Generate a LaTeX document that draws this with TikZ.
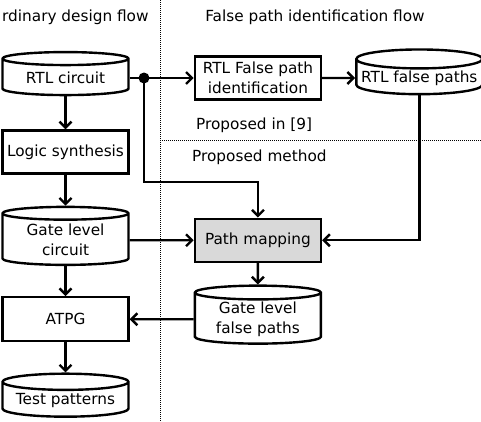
\documentclass[tikz,border=0pt]{standalone}
\usepackage{fontspec}
\setmainfont{DejaVu Sans}
\usetikzlibrary{shapes.geometric, arrows.meta, positioning}

\begin{document}
\begin{tikzpicture}[x=1pt, y=-1pt, ->, >={Straight Barb[length=6pt,width=12pt]}, line width=2.4pt, node distance=33pt,
		font=\fontsize{15.3}{20}\selectfont,
		box/.style={draw, rectangle, align=center, minimum width=126pt, minimum height=43pt, inner sep=2pt},
		db/.style={draw, cylinder, shape border rotate=90, aspect=0.16, align=center, minimum width=126pt, minimum height=43pt, inner sep=1pt},
		lbl/.style={inner sep=0pt},
		sep/.style={-, line width=1pt, dash pattern=on 1pt off 1pt}]
	\useasboundingbox (0,0) rectangle (481,421);
	
	% separators and titles
	\draw[sep] (160,0) -- (160,421);
	\draw[sep] (160,140) -- (481,140);
	\node[lbl, anchor=west] (ordinary) at (1,17) {rdinary design flow};
	\node[lbl] (fpflow) at (315,17) {False path identification flow};
	\node[lbl, anchor=west] (proposedin) at (195,125) {Proposed in [9]};
	\node[lbl, anchor=west] (proposed) at (191,157) {Proposed method};
	
	% ordinary flow
	\node[db] (rtl) at (65.5,78) {RTL circuit};
	\node[box] (synth) [below=of rtl] {Logic synthesis};
	\node[db, minimum height=58pt] (gate) [below=31pt of synth] {Gate level\\circuit};
	\node[box, minimum height=44pt] (atpg) [below=30pt of gate] {ATPG};
	\node[db] (test) [below=30pt of atpg] {Test patterns};
	
	% false path flow
	\node[box] (fpid) [right=64pt of rtl] {RTL False path\\identification};
	\node[db] (rtlfp) [right=33pt of fpid] {RTL false paths};
	\node[box, fill=black!15] (map) [right=64pt of gate] {Path mapping};
	\node[db, minimum height=58pt] (gfp) [right=64pt of atpg] {Gate level\\false paths};
	\node[circle, fill, inner sep=0pt, minimum size=11pt] (split) at (144,78) {};
	
	\path
	(rtl) edge (synth)
	(synth) edge (gate)
	(gate) edge (atpg)
	(atpg) edge (test)
	(rtl.east) edge (fpid)
	(fpid) edge (rtlfp)
	(gate) edge (map)
	(map) edge (gfp)
	(gfp) edge (atpg);
	\draw (split.center) -- ++(0,104) -| (map);
	\draw (rtlfp) |- (map);
\end{tikzpicture}
\end{document}
